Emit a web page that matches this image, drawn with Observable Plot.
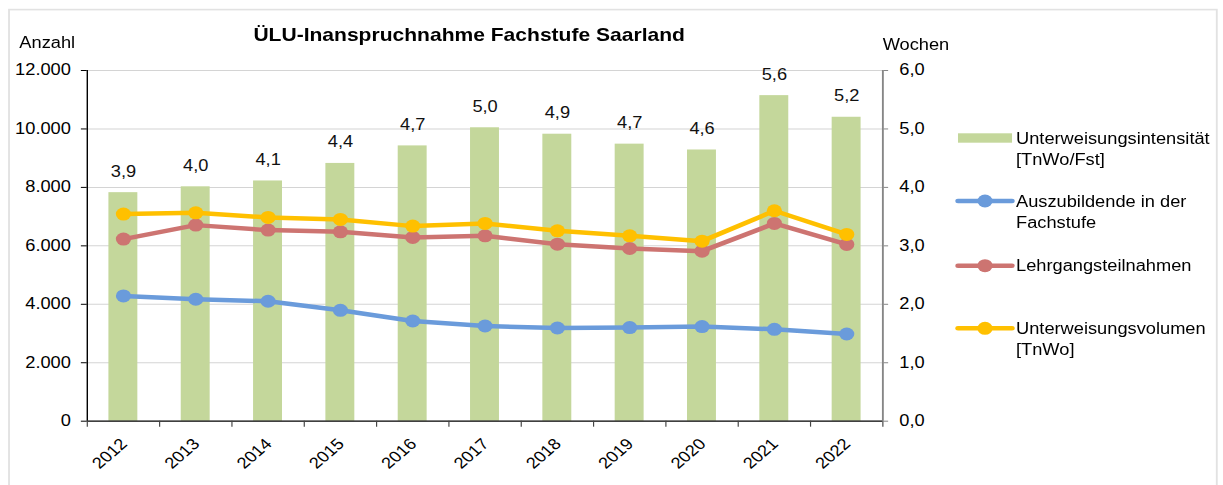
<!DOCTYPE html>
<html>
<head>
<meta charset="utf-8">
<script src="https://cdn.jsdelivr.net/npm/d3@7"></script>
<script src="https://cdn.jsdelivr.net/npm/@observablehq/plot@0.6"></script>
<style>
html, body { margin: 0; padding: 0; background: #fff; overflow: hidden; }
#wrap { position: absolute; left: 0; top: 0; height: 485px; transform-origin: 0 0; }
</style>
</head>
<body>
<div id="wrap"></div>
<script>
// ---- data ----
const years = [2012, 2013, 2014, 2015, 2016, 2017, 2018, 2019, 2020, 2021, 2022];
const intensitaet = [3.91, 4.01, 4.11, 4.41, 4.71, 5.02, 4.91, 4.74, 4.64, 5.57, 5.20]; // Wochen
const auszubildende = [4286, 4172, 4104, 3795, 3428, 3257, 3188, 3202, 3236, 3144, 2983];
const lehrgang = [6230, 6709, 6538, 6480, 6287, 6343, 6058, 5910, 5818, 6767, 6048];
const volumen = [7087, 7131, 6972, 6904, 6675, 6767, 6514, 6343, 6161, 7200, 6390];
const leftTicks = [0, 2000, 4000, 6000, 8000, 10000, 12000];
const rightTicks = [0, 1, 2, 3, 4, 5, 6];
const seriesNames = ["Auszubildende in der Fachstufe", "Lehrgangsteilnahmen", "Unterweisungsvolumen [TnWo]"];
const seriesColors = ["#6a9bdb", "#cd7471", "#ffc000"];
const barName = "Unterweisungsintensität [TnWo/Fst]";
const barColor = "#c4d79b";
const title = "ÜLU-Inanspruchnahme Fachstufe Saarland";
const leftLabel = "Anzahl";
const rightLabel = "Wochen";

// ---- derived tables ----
const F = 12000 / 6; // right axis (Wochen) -> left axis (Anzahl)
const bars = years.map((year, i) => ({year, v: intensitaet[i]}));
const lines = [auszubildende, lehrgang, volumen].map((vals, s) =>
  years.map((year, i) => ({year, value: vals[i], series: seriesNames[s]})));
const boundaries = years.map(y => y - 0.5).concat([years[years.length - 1] + 0.5]);
const fmtWeeks = v => d3.format(".1f")(v).replace(".", ",");
const fmtCount = v => d3.format(",")(v).replace(/,/g, ".");

const K = 1.17;             // horizontal stretch of the reference
const W = 1223 / K;
const FONT = "'Liberation Sans', Arial, sans-serif";
const FS = 15.6;

const wrap = document.getElementById("wrap");
wrap.style.width = W + "px";
wrap.style.transform = `scaleX(${K})`;

const lineMarks = lines.flatMap(data => [
  Plot.line(data, {x: "year", y: "value", stroke: "series", strokeWidth: 4.5}),
  Plot.dot(data, {x: "year", y: "value", fill: "series", r: 6.5})
]);

const plot = Plot.plot({
  width: W,
  height: 485,
  marginLeft: 74.1,
  marginRight: W - 754.1,
  marginTop: 70,
  marginBottom: 485 - 420.7,
  style: {fontFamily: FONT, fontSize: FS + "px", color: "#000", background: "#fff", overflow: "visible"},
  x: {type: "linear", domain: [2011.5, 2022.5]},
  y: {domain: [0, 12000]},
  color: {domain: seriesNames, range: seriesColors},
  marks: [
    Plot.gridY(leftTicks.slice(1), {stroke: "#d4d4d4", strokeOpacity: 1, strokeWidth: 1}),
    Plot.rectY(bars, {x1: d => d.year - 0.2, x2: d => d.year + 0.2, y1: 0, y2: d => d.v * F, fill: barColor}),
    Plot.text(bars, {x: "year", y: d => d.v * F, text: d => fmtWeeks(d.v), lineAnchor: "bottom", dy: -16, fill: "#111", fontSize: FS}),
    ...lineMarks,
    Plot.ruleX([2011.5], {stroke: "#000", strokeWidth: 1.2}),
    Plot.ruleX([2022.5], {stroke: "#868686", strokeWidth: 1.6}),
    Plot.ruleY([0], {stroke: "#000", strokeWidth: 1.2}),
    Plot.axisY(leftTicks, {anchor: "left", tickSize: 5, tickPadding: 9, tickFormat: fmtCount, stroke: "#000", fill: "#000", label: null, fontSize: FS}),
    Plot.axisY(leftTicks, {anchor: "right", tickSize: 4, tickPadding: 10, tickFormat: d => fmtWeeks(d / F), stroke: "#868686", fill: "#000", label: null, fontSize: FS}),
    Plot.axisX(boundaries, {tickSize: 6, tickFormat: () => "", stroke: "#444", label: null}),
    Plot.text(years, {x: d => d, frameAnchor: "bottom", text: d => String(d), rotate: -45, textAnchor: "end", lineAnchor: "bottom", dx: 4.1, dy: 23.8, fill: "#000", fontSize: FS})
  ]
});
wrap.appendChild(plot);

// ---- title, axis titles, legend, outer frame ----
const svgEl = plot.tagName.toLowerCase() === "svg" ? plot : plot.querySelector("svg");
const svg = d3.select(svgEl);
const g = svg.append("g").attr("font-family", FONT).attr("fill", "#000").attr("text-anchor", "start");

g.append("rect").attr("x", 7.7).attr("y", 9.6).attr("width", 1032.3).attr("height", 520)
  .attr("fill", "none").attr("stroke", "#e2e2e2").attr("stroke-width", 1.6);

g.append("text").attr("x", 401).attr("y", 41).attr("text-anchor", "middle")
  .attr("font-size", 18).attr("font-weight", "bold").text(title);
g.append("text").attr("x", 16.5).attr("y", 48.3).attr("font-size", FS).text(leftLabel);
g.append("text").attr("x", 754.4).attr("y", 50).attr("font-size", FS).text(rightLabel);

const LX1 = 818.8, LX2 = 865, LCX = 841.9, LTX = 868.4;
// bar legend
g.append("rect").attr("x", LX1).attr("y", 133.3).attr("width", LX2 - LX1).attr("height", 9.4).attr("fill", barColor);
const legendText = (lines, baseline) => {
  const t = g.append("text").attr("font-size", FS).attr("text-anchor", "start");
  lines.forEach((s, i) => t.append("tspan").attr("x", LTX).attr("y", baseline + i * 21.3).text(s));
};
legendText(["Unterweisungsintensität", "[TnWo/Fst]"], 143.8);
const lineLegend = [
  {cy: 201, lines: ["Auszubildende in der", "Fachstufe"], base: 206.6},
  {cy: 265.7, lines: ["Lehrgangsteilnahmen"], base: 271.4},
  {cy: 328.3, lines: ["Unterweisungsvolumen", "[TnWo]"], base: 334}
];
lineLegend.forEach((item, i) => {
  g.append("line").attr("x1", LX1).attr("x2", LX2).attr("y1", item.cy).attr("y2", item.cy)
    .attr("stroke", seriesColors[i]).attr("stroke-width", 4.5).attr("stroke-linecap", "round");
  g.append("circle").attr("cx", LCX).attr("cy", item.cy).attr("r", 6.5).attr("fill", seriesColors[i]);
  legendText(item.lines, item.base);
});
</script>
</body>
</html>
